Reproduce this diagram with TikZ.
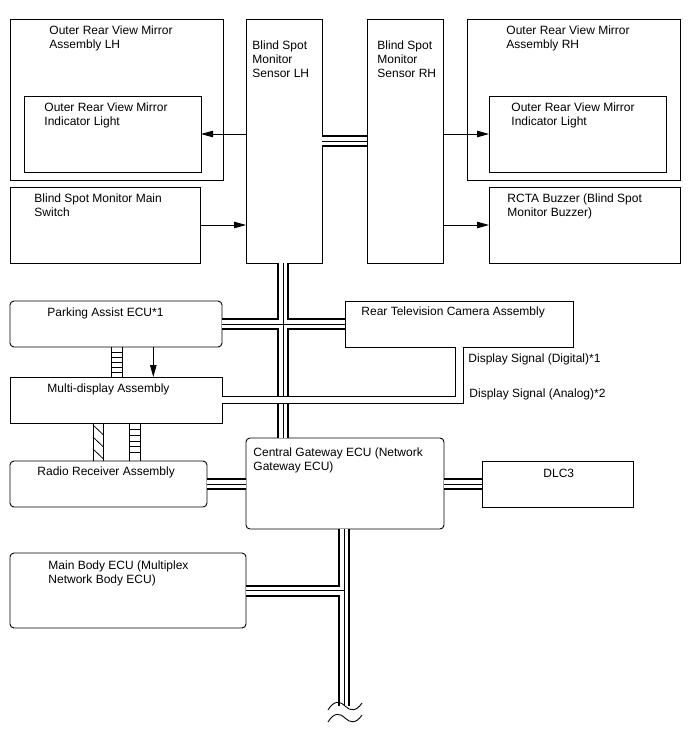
\documentclass[tikz,border=0pt]{standalone}
\usepackage{fontspec}
\setmainfont{Liberation Sans}
\usetikzlibrary{arrows.meta, calc}
\tikzset{
    wiring/.style={x=1pt, y=-1pt, >={Triangle[length=12pt, width=6.5pt]}, line width=0.9pt, font=\fontsize{12}{14}\selectfont},
    box/.style={draw, anchor=north west, inner sep=0pt, outer sep=0pt},
    ecu/.style={box, rounded corners=4pt},
    % labels sit on the baseline of their last line
    txt/.style={anchor=base west, inner sep=0pt, align=left},
    % three wire bus: two heavy lines with a thin one between
    bus/.style={draw, line width=12pt, postaction={draw, white, line width=8pt, postaction={draw, black, line width=0.8pt}}},
    sigpair/.style={draw, line width=0.9pt, double=white, double distance=6.8pt},
    rung/.style={line width=0.8pt},
}

\begin{document}
\begin{tikzpicture}[wiring]
    \useasboundingbox (0,0) rectangle (688,755);

    % boxes
    \node[box, minimum width=213pt, minimum height=161pt] (mirLH)  at (10,19)  {};
    \node[box, minimum width=177pt, minimum height=76pt]  (lampLH) at (24,96)  {};
    \node[box, minimum width=76pt,  minimum height=244pt] (bsmLH)  at (246,19) {};
    \node[box, minimum width=190pt, minimum height=76pt]  (mainsw) at (10,187) {};
    \node[box, minimum width=76pt,  minimum height=244pt] (bsmRH)  at (367,19) {};
    \node[box, minimum width=213pt, minimum height=161pt] (mirRH)  at (467,19) {};
    \node[box, minimum width=177pt, minimum height=76pt]  (lampRH) at (489,96) {};
    \node[box, minimum width=191pt, minimum height=76pt]  (buzzer) at (489,187) {};
    \node[ecu, minimum width=212pt, minimum height=46pt]  (pka)    at (10,301) {};
    \node[box, minimum width=228pt, minimum height=46pt]  (camera) at (345,301) {};
    \node[box, minimum width=212pt, minimum height=46pt]  (mdisp)  at (10,377) {};
    \node[ecu, minimum width=197pt, minimum height=46pt]  (radio)  at (10,461) {};
    \node[ecu, minimum width=198pt, minimum height=91pt]  (cgw)    at (246,438) {};
    \node[box, minimum width=151pt, minimum height=46pt]  (dlc)    at (482,461) {};
    \node[ecu, minimum width=236pt, minimum height=75pt]  (body)   at (10,553) {};

    % labels
    \node[txt] (mirLH-lbl)  at (49,48)    {Outer Rear View Mirror\\Assembly LH};
    \node[txt] (lampLH-lbl) at (44,125.5) {Outer Rear View Mirror\\Indicator Light};
    \node[txt] (bsmLH-lbl)  at (252,77)   {Blind Spot\\Monitor\\Sensor LH};
    \node[txt] (mainsw-lbl) at (34,216)   {Blind Spot Monitor Main\\Switch};
    \node[txt] (bsmRH-lbl)  at (377,77)   {Blind Spot\\Monitor\\Sensor RH};
    \node[txt] (mirRH-lbl)  at (506,48)   {Outer Rear View Mirror\\Assembly RH};
    \node[txt] (lampRH-lbl) at (511,125.5) {Outer Rear View Mirror\\Indicator Light};
    \node[txt] (buzzer-lbl) at (507,216)  {RCTA Buzzer (Blind Spot\\Monitor Buzzer)};
    \node[txt] (pka-lbl)    at (47,316.5) {Parking Assist ECU*1};
    \node[txt] (camera-lbl) at (361,315.5) {Rear Television Camera Assembly};
    \node[txt] (mdisp-lbl)  at (47,392)   {Multi-display Assembly};
    \node[txt] (radio-lbl)  at (37,475)   {Radio Receiver Assembly};
    \node[txt] (cgw-lbl)    at (253,470.5) {Central Gateway ECU (Network\\Gateway ECU)};
    \node[txt] (dlc-lbl)    at (543,477)  {DLC3};
    \node[txt] (dig-lbl)    at (468,362.5) {Display Signal (Digital)*1};
    \node[txt] (ana-lbl)    at (469,397.5) {Display Signal (Analog)*2};
    \node[txt] (body-lbl)   at (48,583)   {Main Body ECU (Multiplex\\Network Body ECU)};

    % signal arrows
    \draw[->] (bsmLH.west |- lampLH.east) -- (lampLH.east);
    \draw[->] (mainsw.east) -- (bsmLH.west |- mainsw.east);
    \draw[->] (bsmRH.east |- lampRH.west) -- (lampRH.west);
    \draw[->] (bsmRH.east |- buzzer.west) -- (buzzer.west);
    \draw[->] (pka.south -| 153.3,0) -- (mdisp.north -| 153.3,0);

    % buses
    \draw[bus] (bsmLH.east |- 0,141) -- (bsmRH.west |- 0,141);
    \draw[bus] (bsmLH.south -| 283,0) -- (cgw.north -| 283,0)
               (pka.east) -- (camera.west);
    \draw[bus] (radio.east) -- (cgw.west |- radio.east);
    \draw[bus] (cgw.east |- dlc.west) -- (dlc.west);
    \coordinate (busend) at (344,706);
    \draw[bus] (cgw.south -| busend) -- (busend)
               (body.east) -- (body.east -| busend);

    % display signal
    \draw[sigpair] (camera.south -| 459.5,0) |- (mdisp.east);

    % ladder and hatched links
    \draw[rung] (pka.south -| 111,0) -- (mdisp.north -| 111,0)
                (pka.south -| 122,0) -- (mdisp.north -| 122,0);
    \foreach \y in {352,357,...,372} \draw[rung] (111,\y) -- (122,\y);
    \draw[rung] (mdisp.south -| 129.5,0) -- (radio.north -| 129.5,0)
                (mdisp.south -| 140.5,0) -- (radio.north -| 140.5,0);
    \foreach \y in {429.5,435.2,...,456} \draw[rung] (129.5,\y) -- (140.5,\y);
    \draw[rung] (mdisp.south -| 93,0) -- (radio.north -| 93,0)
                (mdisp.south -| 103.5,0) -- (radio.north -| 103.5,0);
    \foreach \y in {425,437,449} \draw[rung] (93,\y) -- (103.5,\y+10);

    % break mark
    \draw (328,710) .. controls (334,700) and (340,701) .. (345,706) .. controls (350,711) and (356,712) .. (362,703);
    \draw (328,722) .. controls (334,712) and (340,713) .. (345,718) .. controls (350,723) and (356,724) .. (362,715);
\end{tikzpicture}
\end{document}
